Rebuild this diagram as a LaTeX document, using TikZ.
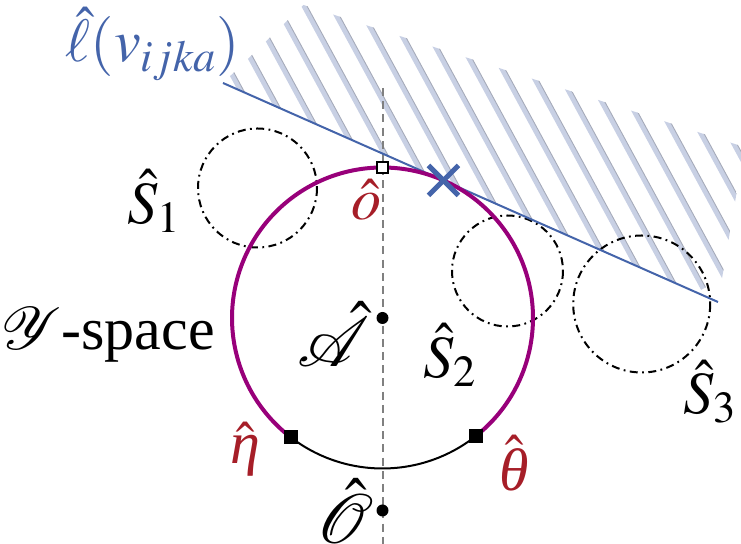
\documentclass[tikz,border=0pt]{standalone}
\usepackage{mathptmx}
\usepackage[no-math]{fontspec}
\setmainfont{Liberation Serif}
\usetikzlibrary{calc}
\definecolor{magc}{RGB}{152,0,122}
\definecolor{redc}{RGB}{166,30,40}
\definecolor{bluec}{RGB}{68,100,170}
\definecolor{hatchc}{RGB}{200,208,228}
\definecolor{hatche}{RGB}{165,170,185}
\definecolor{dashc}{RGB}{128,128,128}
\newcommand{\itgr}[1]{\mbox{\itshape #1}}
\tikzset{
  lbl/.style={inner sep=0pt, font=\fontsize{30}{36}\selectfont},
  biglbl/.style={inner sep=0pt, font=\fontsize{35}{40}\selectfont},
  ddot/.style={circle, fill=black, inner sep=0pt, minimum size=6pt},
  sball/.style={draw=black, line width=1pt, dash pattern=on 4pt off 2.2pt on 0.9pt off 2.2pt},
  fsq/.style={rectangle, fill=black, inner sep=0pt, minimum size=7pt},
  osq/.style={rectangle, draw=black, fill=white, line width=1pt, inner sep=0pt, minimum size=5.5pt},
}
\begin{document}
\begin{tikzpicture}[x=0.5pt,y=-0.5pt]
\useasboundingbox (0,0) rectangle (741,544);
% hatched half-space
\begin{scope}
  \clip (223,83) -- (303.5,5) -- (741,146) -- (741,167) -- (718,302) -- cycle;
  \foreach \k in {-4,...,24} {
    \draw[hatchc, line width=2.5pt]
      ($(303.5,5)+\k*(21.1,-11.45)+(-0.477*60,-0.879*60)$) -- ++(0.477*500,0.879*500);
    \draw[hatche, line width=0.45pt]
      ($(303.5,5)+\k*(21.1,-11.45)+(2.3,-1.25)+(-0.477*60,-0.879*60)$) -- ++(0.477*500,0.879*500);
  }
\end{scope}
% coordinates
\coordinate (C) at (382.5,318);
\coordinate (top) at (382.5,88);
\coordinate (bot) at (382.5,544);
\coordinate (l1) at (223,83);
\coordinate (l2) at (718,302);
\coordinate (X) at (443.4,180.4);
% vertical dashed axis
\draw[dashc, line width=1pt, dash pattern=on 4pt off 2.6pt] (top) -- (bot);
% small balls
\draw[sball] (257.5,188) circle[radius=59.5];
\draw[sball] (507.5,271) circle[radius=55.5];
\draw[sball] (641.7,304) circle[radius=68.5];
% tangent line
\draw[bluec, line width=1pt] (l1) -- (l2);
% main circle arcs
\draw[black, line width=1pt] ($(C)+(51.5:150.5)$) arc[start angle=51.5, end angle=127.6, radius=150.5];
\draw[magc, line width=2pt] ($(C)+(51.5:150.5)$) arc[start angle=51.5, end angle=-232.4, radius=150.5];
% markers
\node[fsq] (eta) at ($(C)+(127.6:150.5)$) {};
\node[fsq] (theta) at ($(C)+(51.5:150.5)$) {};
\node[osq] (o) at (382.5,168) {};
\node[ddot] (A) at (C) {};
\node[ddot] (O) at (382.5,510.5) {};
% tangent point cross
\draw[bluec, line width=2.5pt] ($(X)+(-15,-15)$) -- ($(X)+(15,15)$);
\draw[bluec, line width=2.5pt] ($(X)+(-15,15)$) -- ($(X)+(15,-15)$);
% labels
\node[lbl, text=bluec] (ell) at (153,44) {$\hat{\ell}(v_{ijka})$};
\node[lbl] (S1) at (154,201) {$\hat{S}_1$};
\node[lbl] (S2) at (450,355) {$\hat{S}_2$};
\node[lbl] (S3) at (710,392) {$\hat{S}_3$};
\node[lbl, text=redc] (olbl) at (366,200) {$\hat{o}$};
\node[lbl] (Y) at (108,335) {$\mathcal{Y}$-space};
\node[biglbl] (Alb) at (334,334) {$\hat{\mathcal{A}}$};
\node[lbl, text=redc] (etal) at (245,449) {$\hat{\itgr{η}}$};
\node[lbl, text=redc] (thetal) at (514,463) {$\hat{\itgr{θ}}$};
\node[biglbl] (Olb) at (345,511) {$\hat{\mathcal{O}}$};
\end{tikzpicture}
\end{document}
